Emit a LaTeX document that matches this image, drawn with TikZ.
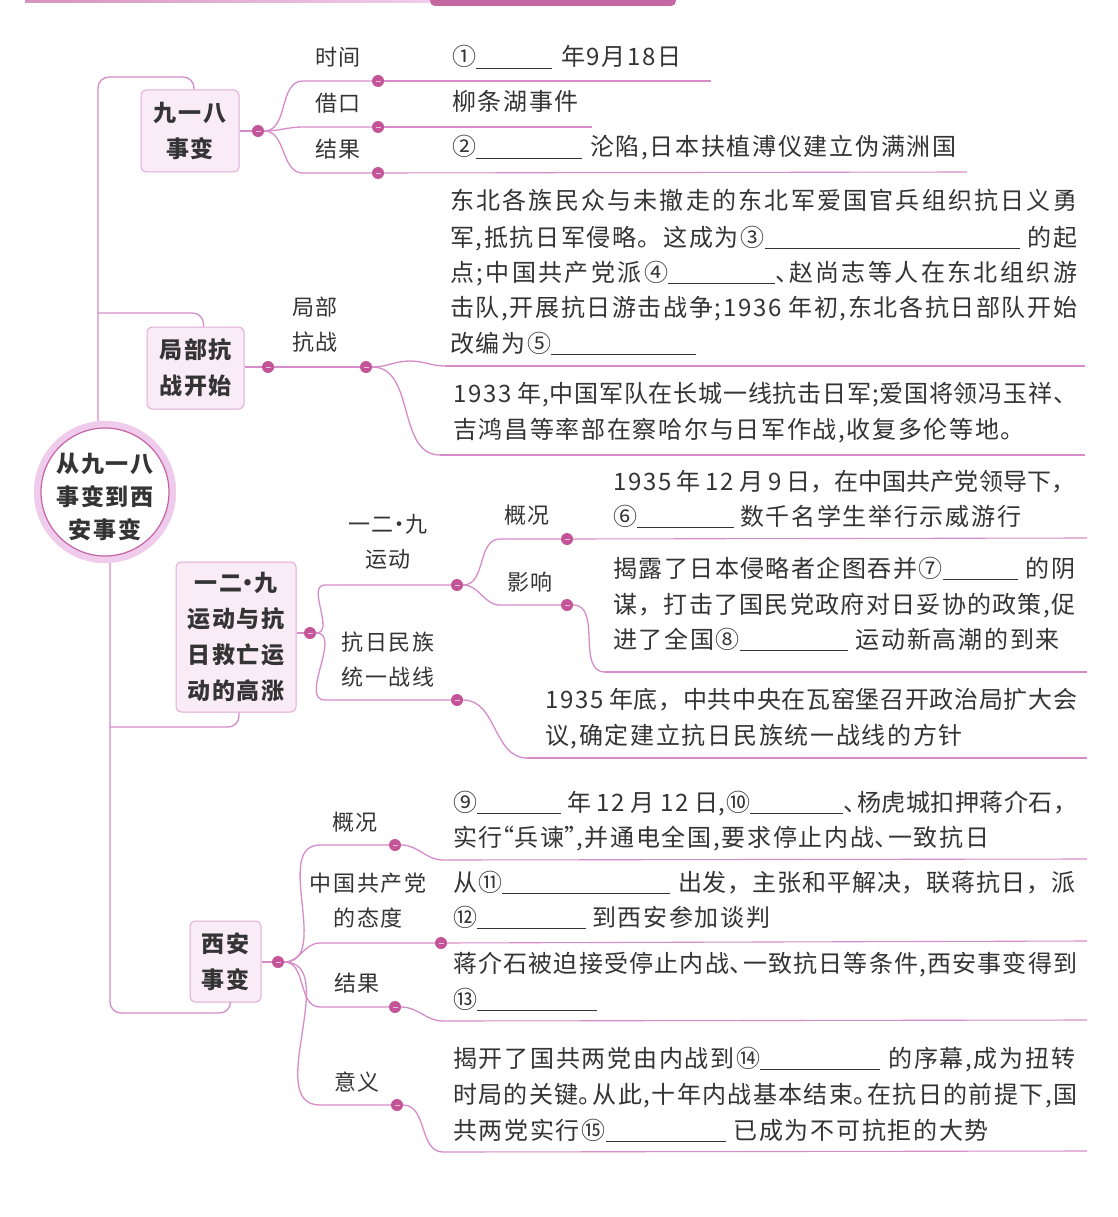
\documentclass[tikz,border=0pt]{standalone}
\usepackage{fontspec}
\setmainfont{Noto Sans CJK SC}
\newfontfamily\bodyff[LetterSpace=7]{Noto Sans CJK SC}
\newfontfamily\labff[LetterSpace=4]{Noto Sans CJK SC}
\usetikzlibrary{calc}
\definecolor{linec}{RGB}{214,140,200}
\definecolor{dotc}{RGB}{196,84,152}
\definecolor{boxfill}{RGB}{250,236,247}
\definecolor{boxline}{RGB}{226,170,214}
\definecolor{ringc}{RGB}{240,204,236}
\definecolor{rootin}{RGB}{196,100,166}
\definecolor{txt}{RGB}{52,52,52}
\definecolor{topbar}{RGB}{196,102,160}
% character classes and inter-character glue so that full lines can be justified
\makeatletter
\count@="4E00
\loop
  \XeTeXcharclass\count@=1
  \advance\count@ by 1
\ifnum\count@<"A000 \repeat
\count@="2460
\loop
  \XeTeXcharclass\count@=1
  \advance\count@ by 1
\ifnum\count@<"2474 \repeat
\makeatother
\XeTeXcharclass"3001=3
\XeTeXcharclass"3002=3
\XeTeXcharclass"FF0C=3
\XeTeXcharclass"FF1B=3
\XeTeXcharclass"201D=3
\XeTeXcharclass"201C=2
\newcommand{\cjkglue}{\hskip 0.07em plus 0.12em minus 0.08em\relax}
\XeTeXinterchartokenstate=1
\XeTeXinterchartoks 1 1 = {\cjkglue}
\XeTeXinterchartoks 1 2 = {\cjkglue}
\XeTeXinterchartoks 1 3 = {\cjkglue}
\XeTeXinterchartoks 3 1 = {\cjkglue}
\XeTeXinterchartoks 2 1 = {\cjkglue}
\XeTeXinterchartoks 3 3 = {\cjkglue}
\XeTeXinterchartoks 0 1 = {\cjkglue}
\XeTeXinterchartoks 1 0 = {\cjkglue}
\newcommand{\jl}[2]{\makebox[#1pt][s]{#2}}
\newcommand{\blank}[1]{\rule[-3pt]{#1pt}{1.1pt}}
\newcommand{\dun}{\makebox[14pt][l]{、}}
\newcommand{\jd}{\makebox[14pt][l]{。}}
\newcommand{\lqq}{\makebox[12pt][r]{“}}
\newcommand{\rqq}{\makebox[12pt][l]{”}}
\newcommand{\mdot}{\makebox[12pt][c]{·}}
\newcommand{\bodyfont}{\bodyff\fontsize{24}{30}\selectfont}
\newcommand{\labfont}{\labff\fontsize{22}{35}\selectfont}
\newcommand{\boxfont}{\labff\bfseries\fontsize{23}{36}\selectfont}
\tikzset{
  conn/.style={draw=linec, line width=1.3pt},
  tline/.style={draw=linec, line width=1.1pt},
  dot/.style={circle, fill=dotc, inner sep=0pt, minimum size=12pt,
    path picture={\draw[dotc!35!white, line width=0.8pt]
      ([xshift=-2.5pt]path picture bounding box.center) -- ([xshift=2.5pt]path picture bounding box.center);}},
  bx/.style={draw=boxline, fill=boxfill, rounded corners=5pt, line width=1pt,
    inner sep=0pt, align=center, font=\boxfont, text=txt},
  lab/.style={align=center, font=\labfont, text=txt, inner sep=0pt},
  body/.style={anchor=base west, inner sep=0pt, font=\bodyfont, text=txt}
}
\begin{document}
\begin{tikzpicture}[x=1pt,y=-1pt]
\useasboundingbox (0,0) rectangle (1117,1217);
\fill[white] (0,0) rectangle (1117,1217);
% cut-off top decoration
\shade[left color=topbar!70!white, right color=ringc] (25,-2) rectangle (430,3);
\fill[topbar, rounded corners=5pt] (430,-12) rectangle (676,6);

% ---------- boxes ----------
\node[bx, minimum width=98pt, minimum height=82pt] (b1) at (190,131) {九一八\\事变};
\node[bx, minimum width=97pt, minimum height=82pt] (b2) at (195.5,368) {局部抗\\战开始};
\node[bx, minimum width=120pt, minimum height=150pt] (b3) at (236,637) {一二\mdot 九\\运动与抗\\日救亡运\\动的高涨};
\node[bx, minimum width=71pt, minimum height=81pt] (b4) at (225.5,961.5) {西安\\事变};

% ---------- spine ----------
\coordinate (sp1) at (98,77);
\coordinate (sp2) at (98,313);
\coordinate (sp3) at (110,727);
\coordinate (sp4) at (110,1013);
\node[circle, minimum size=142pt, fill=ringc, inner sep=0pt] (ring) at (105,492) {};
\draw[conn, rounded corners=11pt] ([xshift=4pt]b1.north) |- (sp1) -- (ring.north -| sp1);
\draw[conn, rounded corners=11pt] (sp2) -| ([xshift=8pt]b2.north);
\draw[conn, rounded corners=11pt] (ring.south -| sp4) -- (sp4) -| ([xshift=5pt]b4.south);
\draw[conn, rounded corners=11pt] (sp3) -| ([xshift=3pt]b3.south);
\node[circle, minimum size=142pt, fill=ringc, inner sep=0pt] at (ring) {};
\node[circle, minimum size=128pt, fill=white, draw=rootin, line width=1.2pt, inner sep=0pt] (root) at (ring) {};
\node[align=center, inner sep=0pt, font=\labff\bfseries\fontsize{23}{33}\selectfont, text=txt] (roottext) at (105,497) {从九一八\\事变到西\\安事变};

% ---------- section 1 ----------
\node[dot] (d1) at (258,131) {};
\draw[conn] (b1.east) -- (d1);
\coordinate (c11) at (303,81);  \node[dot] (d11) at (378,81) {};  \coordinate (e11) at (711,81);
\coordinate (c12) at (303,127); \node[dot] (d12) at (378,127) {}; \coordinate (e12) at (592,127);
\coordinate (c13) at (303,173); \node[dot] (d13) at (378,173) {}; \coordinate (e13) at (967,172);
\draw[conn] (d1) to[out=0,in=180] (c11) -- (d11);
\draw[conn] (d1) to[out=0,in=180] (c12) -- (d12);
\draw[conn] (d1) to[out=0,in=180] (c13) -- (d13);
\draw[tline] (d11) -- (e11);
\draw[tline] (d12) -- (e12);
\draw[tline] (d13) -- (e13);
\node[lab] (l11) at (338,57) {时间};
\node[lab] (l12) at (338,103) {借口};
\node[lab] (l13) at (338,149) {结果};
\node[body] (t11) at (452,66) {①\blank{76}\hspace{9pt}年9月18日};
\node[body] (t12) at (452,111) {柳条湖事件};
\node[body] (t13) at (452,156) {②\blank{106}\hspace{8pt}沦陷,日本扶植溥仪建立伪满洲国};

% ---------- section 2 ----------
\node[dot] (d2) at (268,367) {};
\node[dot] (d21) at (366,367) {};
\draw[conn] (b2.east |- d2) -- (d2) -- (d21);
\node[lab] (l21) at (315,325) {局部\\抗战};
\coordinate (w21) at (410,361); \coordinate (c21) at (445,366); \coordinate (e21) at (1085,366);
\coordinate (c22) at (440,455); \coordinate (e22) at (1085,455);
\draw[conn] (d21) to[out=0,in=180] (w21) to[out=0,in=180] (c21);
\draw[tline] (c21) -- (e21);
\draw[conn] (d21) to[out=0,in=180] (c22);
\draw[tline] (c22) -- (e22);
\node[body] (a1) at (450,209) {\jl{627}{东北各族民众与未撤走的东北军爱国官兵组织抗日义勇}};
\node[body] (a2) at (450,246) {\jl{627}{军,抵抗日军侵略。这成为③\blank{255}\hspace{8pt}的起}};
\node[body] (a3) at (450,281) {\jl{627}{点;中国共产党派④\blank{107}\dun 赵尚志等人在东北组织游}};
\node[body] (a4) at (450,316) {\jl{627}{击队,开展抗日游击战争;1936 年初,东北各抗日部队开始}};
\node[body] (a5) at (450,352) {改编为⑤\blank{145}};
\node[body] (a6) at (453,402) {\jl{624}{1933 年,中国军队在长城一线抗击日军;爱国将领冯玉祥、}};
\node[body] (a7) at (453,438) {吉鸿昌等率部在察哈尔与日军作战,收复多伦等地。};

% ---------- section 3 ----------
\node[dot] (d3) at (310,633) {};
\draw[conn] (b3.east |- d3) -- (d3);
\coordinate (c31) at (325,585); \node[dot] (d31) at (457,585) {};
\coordinate (c32) at (325,700); \node[dot] (d32) at (457,700) {};
\draw[conn] (d3) to[out=0,in=180] (c31) -- (d31);
\draw[conn] (d3) to[out=0,in=180] (c32) -- (d32);
\node[lab] (l31) at (388,542) {一二\mdot 九\\运动};
\node[lab] (l32) at (388,660) {抗日民族\\统一战线};
\coordinate (c311) at (500,539); \node[dot] (d311) at (567,539) {}; \coordinate (e311) at (1087,538);
\coordinate (c312) at (500,605); \node[dot] (d312) at (567,605) {};
\coordinate (f312) at (605,672); \coordinate (e312) at (1087,672);
\draw[conn] (d31) to[out=0,in=180] (c311) -- (d311);
\draw[conn] (d31) to[out=0,in=180] (c312) -- (d312);
\draw[tline] (d311) -- (e311);
\draw[conn] (d312) to[out=0,in=180] (f312);
\draw[tline] (f312) -- (e312);
\coordinate (f32) at (527,758); \coordinate (e32) at (1087,758);
\draw[conn] (d32) to[out=0,in=180] (f32);
\draw[tline] (f32) -- (e32);
\node[lab] (l311) at (527,515) {概况};
\node[lab] (l312) at (530,582) {影响};
\node[body] (g1) at (613,490) {\jl{462}{1935 年 12 月 9 日，在中国共产党领导下，}};
\node[body] (g2) at (613,525) {⑥\blank{97}\hspace{6pt}数千名学生举行示威游行};
\node[body] (y1) at (613,577) {\jl{462}{揭露了日本侵略者企图吞并⑦\blank{75}\hspace{8pt}的阴}};
\node[body] (y2) at (613,613) {\jl{462}{谋，打击了国民党政府对日妥协的政策,促}};
\node[body] (y3) at (613,648) {进了全国⑧\blank{108}\hspace{8pt}运动新高潮的到来};
\node[body] (u1) at (545,708) {\jl{532}{1935 年底，中共中央在瓦窑堡召开政治局扩大会}};
\node[body] (u2) at (545,744) {议,确定建立抗日民族统一战线的方针};

% ---------- section 4 ----------
\node[dot] (d4) at (278,962) {};
\draw[conn] (b4.east |- d4) -- (d4);
\coordinate (c41) at (320,845);  \node[dot] (d41) at (395,845) {};
\coordinate (c42) at (320,943);  \node[dot] (d42) at (441,943) {};
\coordinate (c43) at (320,1007); \node[dot] (d43) at (395,1007) {};
\coordinate (c44) at (320,1105); \node[dot] (d44) at (397,1105) {};
\draw[conn] (d4) to[out=0,in=180] (c41) -- (d41);
\draw[conn] (d4) to[out=0,in=180] (c42) -- (d42);
\draw[conn] (d4) to[out=0,in=180] (c43) -- (d43);
\draw[conn] (d4) to[out=0,in=180] (c44) -- (d44);
\coordinate (f41) at (443,860); \coordinate (e41) at (1087,859);
\coordinate (e42) at (1087,941);
\coordinate (f43) at (443,1021); \coordinate (e43) at (1087,1020);
\coordinate (f44) at (443,1152); \coordinate (e44) at (1087,1151);
\draw[conn] (d41) to[out=0,in=180] (f41);
\draw[tline] (f41) -- (e41);
\draw[tline] (d42) -- (e42);
\draw[conn] (d43) to[out=0,in=180] (f43);
\draw[tline] (f43) -- (e43);
\draw[conn] (d44) to[out=0,in=180] (f44);
\draw[tline] (f44) -- (e44);
\node[lab] (l41) at (355,822) {概况};
\node[lab] (l42) at (368,901) {中国共产党\\的态度};
\node[lab] (l43) at (357,983) {结果};
\node[lab] (l44) at (357,1082) {意义};
\node[body] (k1) at (453,811) {\jl{624}{⑨\blank{84}\hspace{6pt}年 12 月 12 日,⑩\blank{93}\dun 杨虎城扣押蒋介石，}};
\node[body] (k2) at (453,846) {实行\lqq 兵谏\rqq,并通电全国,要求停止内战\dun 一致抗日};
\node[body] (z1) at (453,891) {\jl{622}{从⑪\blank{168}\hspace{8pt}出发，主张和平解决，联蒋抗日，派}};
\node[body] (z2) at (453,926) {⑫\blank{109}\hspace{6pt}到西安参加谈判};
\node[body] (r1) at (453,972) {\jl{624}{蒋介石被迫接受停止内战\dun 一致抗日等条件,西安事变得到}};
\node[body] (r2) at (453,1008) {⑬\blank{120}};
\node[body] (m1) at (453,1067) {\jl{622}{揭开了国共两党由内战到⑭\blank{120}\hspace{8pt}的序幕,成为扭转}};
\node[body] (m2) at (453,1103) {\jl{624}{时局的关键\jd 从此,十年内战基本结束\jd 在抗日的前提下,国}};
\node[body] (m3) at (453,1139) {共两党实行⑮\blank{120}\hspace{8pt}已成为不可抗拒的大势};
\end{tikzpicture}
\end{document}
